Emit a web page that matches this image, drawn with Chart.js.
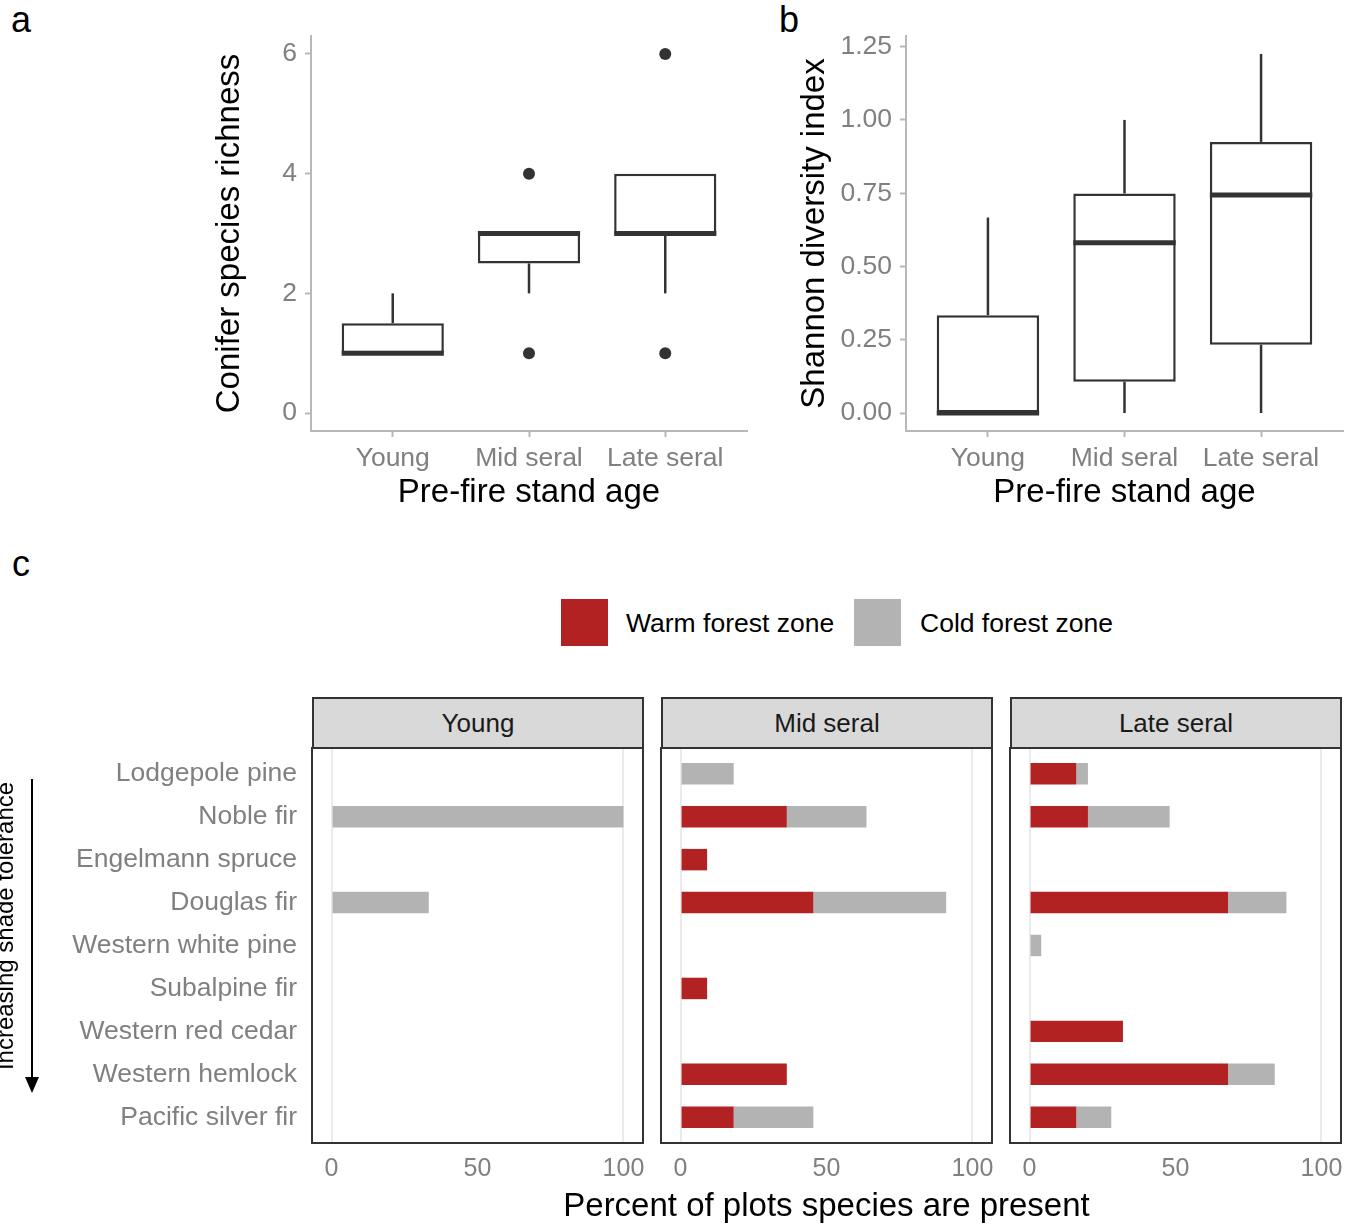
<!DOCTYPE html>
<html>
<head>
<meta charset="utf-8">
<title>Conifer regeneration by pre-fire stand age</title>
<script src="https://cdn.jsdelivr.net/npm/chart.js@4.4.0/dist/chart.umd.min.js"></script>
<style>
  body { margin: 0; background: #fff; font-family: 'Liberation Sans', Arial, sans-serif; }
  #fig { position: relative; width: 1358px; height: 1226px; overflow: hidden; background: #fff; }
  canvas { position: absolute; }
  .tag { position: absolute; font-size: 36px; line-height: 36px; color: #000; }
  .strip { position: absolute; box-sizing: border-box; height: 52px; top: 697px; width: 332px;
           background: #d9d9d9; border: 2px solid #333; color: #1a1a1a; font-size: 26px;
           line-height: 48px; text-align: center; }
  .swatch { position: absolute; top: 599px; width: 47px; height: 47px; }
  .keytext { position: absolute; top: 599px; height: 47px; line-height: 48px; font-size: 26.5px; color: #000; white-space: nowrap; }
  #xtitle { position: absolute; left: 312px; width: 1029px; top: 1186px; line-height: 38px;
            text-align: center; font-size: 33px; color: #000; }
  #shade { position: absolute; width: 300px; height: 28px; line-height: 28px; font-size: 24px;
           text-align: center; color: #000; white-space: nowrap;
           left: -145px; top: 912px; transform: rotate(-90deg); }
</style>
</head>
<body>
<div id="fig">
  <div class="tag" style="left:11px;top:2px">a</div>
  <div class="tag" style="left:779px;top:2px">b</div>
  <div class="tag" style="left:12px;top:546px">c</div>

  <canvas id="richness" width="560" height="520" style="left:200px;top:0"></canvas>
  <canvas id="shannon" width="578" height="520" style="left:780px;top:0"></canvas>

  <div class="swatch" style="left:561px;background:#b22222"></div>
  <div class="keytext" style="left:626px">Warm forest zone</div>
  <div class="swatch" style="left:854px;background:#b3b3b3"></div>
  <div class="keytext" style="left:920px">Cold forest zone</div>

  <div class="strip" style="left:312px">Young</div>
  <div class="strip" style="left:661px">Mid seral</div>
  <div class="strip" style="left:1010px">Late seral</div>

  <canvas id="facetYoung" width="650" height="481" style="left:0;top:746px"></canvas>
  <canvas id="facetMid" width="350" height="481" style="left:650px;top:746px"></canvas>
  <canvas id="facetLate" width="358" height="481" style="left:1000px;top:746px"></canvas>

  <div id="xtitle">Percent of plots species are present</div>
  <div id="shade">Increasing shade tolerance</div>
  <svg style="position:absolute;left:20px;top:775px" width="24" height="325">
    <line x1="12" y1="4" x2="12" y2="303" stroke="#000" stroke-width="2"/>
    <polygon points="5,302 19,302 12,318" fill="#000"/>
  </svg>
</div>

<script>
// stand age groups
const ageGroups = ['Young', 'Mid seral', 'Late seral'];

// panel a: conifer species richness (box plot stats)
const richQ1 = [1, 2.5, 3];
const richMedian = [1, 3, 3];
const richQ3 = [1.5, 3, 4];
const richLow = [1, 2, 2];
const richHigh = [2, 3, 4];
const richOutliers = [[], [4, 1], [6, 1]];
const richTicks = [0, 2, 4, 6];

// panel b: Shannon diversity index (box plot stats)
const shanQ1 = [0, 0.107, 0.233];
const shanMedian = [0, 0.581, 0.744];
const shanQ3 = [0.334, 0.749, 0.925];
const shanLow = [0, 0, 0];
const shanHigh = [0.667, 1.0, 1.225];
const shanOutliers = [[], [], []];
const shanTicks = [0, 0.25, 0.5, 0.75, 1, 1.25];

// panel c: percent of plots where each species is present
const species = ['Lodgepole pine', 'Noble fir', 'Engelmann spruce', 'Douglas fir',
  'Western white pine', 'Subalpine fir', 'Western red cedar', 'Western hemlock', 'Pacific silver fir'];
const warmYoung = [0, 0, 0, 0, 0, 0, 0, 0, 0];
const coldYoung = [0, 100, 0, 33.3, 0, 0, 0, 0, 0];
const warmMid = [0, 36.4, 9.1, 45.5, 0, 9.1, 0, 36.4, 18.2];
const coldMid = [18.2, 27.3, 0, 45.5, 0, 0, 0, 0, 27.3];
const warmLate = [16, 20, 0, 68, 0, 0, 32, 68, 16];
const coldLate = [4, 28, 0, 20, 4, 0, 0, 16, 12];
const pctTicks = [0, 50, 100];

const tickGrey = '#808080';
const axisGrey = '#b8b8b8';
const ink = '#333333';
const warmColor = '#b22222';
const coldColor = '#b3b3b3';
const boxHalf = 0.375;

Chart.defaults.font.family = "'Liberation Sans', Arial, sans-serif";

// fixed axis size, no extra label padding
function fixSize(w, h) {
  return s => {
    if (w != null) s.width = w;
    if (h != null) s.height = h;
    s.paddingTop = s.paddingBottom = s.paddingLeft = s.paddingRight = 0;
  };
}

function segment(x0, y0, x1, y1, width, order) {
  return {
    type: 'line', data: [{ x: x0, y: y0 }, { x: x1, y: y1 }],
    borderColor: ink, borderWidth: width, borderCapStyle: 'butt',
    pointRadius: 0, order
  };
}

function boxDatasets(q1, med, q3, lo, hi, outliers) {
  const ds = [];
  const pts = [];
  outliers.forEach((vals, i) => vals.forEach(v => pts.push({ x: i, y: v })));
  ds.push({
    type: 'line', data: pts, showLine: false, pointRadius: 6,
    pointBackgroundColor: ink, pointBorderWidth: 0, order: 0
  });
  med.forEach((m, i) => ds.push(segment(i - boxHalf, m, i + boxHalf, m, 5, 1)));
  ds.push({
    type: 'bar', data: q1.map((v, i) => ({ x: i, y: [v, q3[i]] })),
    backgroundColor: '#fff', borderColor: ink, borderWidth: 2.5, borderSkipped: false,
    barPercentage: 0.75, categoryPercentage: 1, order: 2
  });
  q1.forEach((v, i) => {
    if (hi[i] > q3[i]) ds.push(segment(i, q3[i], i, hi[i], 2.5, 3));
    if (lo[i] < v) ds.push(segment(i, lo[i], i, v, 2.5, 3));
  });
  return ds;
}

function boxChart(id, datasets, o) {
  return new Chart(document.getElementById(id), {
    type: 'bar',
    data: { datasets },
    options: {
      responsive: false, animation: false, events: [],
      layout: { padding: { top: 36, right: o.padRight, bottom: 0, left: 0 } },
      plugins: { legend: { display: false }, tooltip: { enabled: false } },
      scales: {
        x: {
          type: 'linear', min: -0.6, max: 2.6, offset: false,
          afterBuildTicks: s => { s.ticks = ageGroups.map((g, i) => ({ value: i })); },
          afterFit: fixSize(null, 89),
          ticks: { callback: v => ageGroups[v], color: tickGrey, font: { size: 26.5 }, padding: 6, maxRotation: 0, autoSkip: false },
          grid: { display: true, offset: false, drawOnChartArea: false, drawTicks: true, tickLength: 6, tickColor: axisGrey, tickWidth: 2 },
          border: { display: true, color: axisGrey, width: 2 },
          title: { display: true, text: 'Pre-fire stand age', color: '#000', font: { size: 33 }, padding: { top: 0, bottom: 7 } }
        },
        y: {
          type: 'linear', min: o.yMin, max: o.yMax,
          afterBuildTicks: s => { s.ticks = o.yTicks.map(v => ({ value: v })); },
          afterFit: fixSize(o.axisWidth, null),
          ticks: { callback: o.fmt, color: tickGrey, font: { size: 26.5 }, padding: 8 },
          grid: { display: true, drawOnChartArea: false, drawTicks: true, tickLength: 6, tickColor: axisGrey, tickWidth: 2 },
          border: { display: true, color: axisGrey, width: 2 },
          title: { display: true, text: o.title, color: '#000', font: { size: 33 }, padding: { top: o.titlePad, bottom: 0 } }
        }
      }
    }
  });
}

boxChart('richness', boxDatasets(richQ1, richMedian, richQ3, richLow, richHigh, richOutliers), {
  yMin: -0.3, yMax: 6.3, yTicks: richTicks, fmt: v => String(v),
  title: 'Conifer species richness', axisWidth: 111, titlePad: 10, padRight: 13
});

boxChart('shannon', boxDatasets(shanQ1, shanMedian, shanQ3, shanLow, shanHigh, shanOutliers), {
  yMin: -0.06125, yMax: 1.28625, yTicks: shanTicks, fmt: v => v.toFixed(2),
  title: 'Shannon diversity index', axisWidth: 126, titlePad: 15, padRight: 15
});

const panelBorder = {
  id: 'panelBorder',
  afterDatasetsDraw(chart) {
    const { ctx, chartArea: a } = chart;
    ctx.save();
    ctx.strokeStyle = ink;
    ctx.lineWidth = 2;
    ctx.strokeRect(a.left, a.top, a.right - a.left, a.bottom - a.top);
    ctx.restore();
  }
};

function facetChart(id, warm, cold, showLabels, padLeft, padRight) {
  return new Chart(document.getElementById(id), {
    type: 'bar',
    data: {
      datasets: [
        { label: 'Warm forest zone', data: warm.map((v, i) => ({ x: v, y: i })), backgroundColor: warmColor },
        { label: 'Cold forest zone', data: cold.map((v, i) => ({ x: v, y: i })), backgroundColor: coldColor }
      ]
    },
    options: {
      indexAxis: 'y', responsive: false, animation: false, events: [],
      layout: { padding: { top: 2, right: padRight, bottom: 0, left: padLeft } },
      datasets: { bar: { barPercentage: 0.5, categoryPercentage: 1, borderWidth: 0 } },
      plugins: { legend: { display: false }, tooltip: { enabled: false } },
      scales: {
        x: {
          type: 'linear', stacked: true, min: -6.7, max: 106.7, offset: false,
          afterBuildTicks: s => { s.ticks = pctTicks.map(v => ({ value: v })); },
          afterFit: fixSize(null, 84),
          ticks: { color: tickGrey, font: { size: 25 }, padding: 11, maxRotation: 0, autoSkip: false },
          grid: {
            drawTicks: false, lineWidth: 2,
            color: c => (c.tick && c.tick.value === 50) ? 'rgba(0,0,0,0)' : '#ebebeb'
          },
          border: { display: false }
        },
        y: {
          type: 'linear', stacked: true, reverse: true, min: -0.6, max: 8.6, offset: false,
          display: showLabels,
          afterBuildTicks: s => { s.ticks = species.map((n, i) => ({ value: i })); },
          afterFit: fixSize(showLabels ? 312 : 0, null),
          ticks: { callback: v => species[v], color: tickGrey, font: { size: 26.5 }, padding: 15, autoSkip: false },
          grid: { display: false, drawTicks: false, offset: false },
          border: { display: false }
        }
      }
    },
    plugins: [panelBorder]
  });
}

facetChart('facetYoung', warmYoung, coldYoung, true, 0, 7);
facetChart('facetMid', warmMid, coldMid, false, 11, 8);
facetChart('facetLate', warmLate, coldLate, false, 10, 17);
</script>
</body>
</html>
